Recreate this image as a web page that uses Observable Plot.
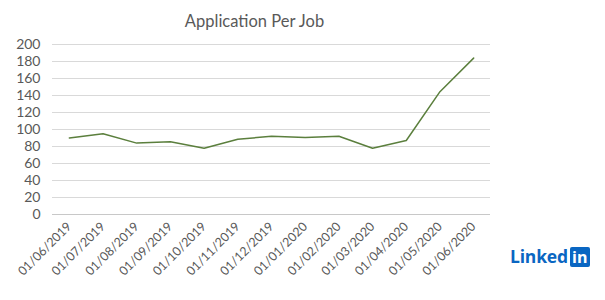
<!DOCTYPE html>
<html>
<head>
<meta charset="utf-8">
<script src="https://cdn.jsdelivr.net/npm/d3@7"></script>
<script src="https://cdn.jsdelivr.net/npm/@observablehq/plot@0.6"></script>
<style>
  html, body { margin: 0; padding: 0; background: #fff; }
  #wrap { position: relative; width: 605px; height: 300px; overflow: hidden; font-family: Lato, "Open Sans", sans-serif; }
  #title { position: absolute; left: 0; width: 509px; top: 11px; text-align: center; font-size: 16.5px; color: #595959; }
  #logo { position: absolute; left: 510px; top: 246px; height: 21px; display: flex; align-items: center; }
  #logo .word { font-family: "Open Sans", Lato, sans-serif; font-weight: 700; font-size: 17.5px; color: #0a66c2; letter-spacing: -0.2px; line-height: 21px; }
  #logo .box { margin-left: 2px; width: 20px; height: 20px; background: #0a66c2; color: #fff; border-radius: 2px; font-family: "Open Sans", sans-serif; font-weight: 700; font-size: 16px; line-height: 20px; text-align: center; }
  svg { position: absolute; left: 0; top: 0; }
</style>
</head>
<body>
<div id="wrap">
  <div id="title">Application Per Job</div>
  <div id="logo"><span class="word">Linked</span><span class="box">in</span></div>
</div>
<script>
const months = ["01/06/2019","01/07/2019","01/08/2019","01/09/2019","01/10/2019","01/11/2019","01/12/2019","01/01/2020","01/02/2020","01/03/2020","01/04/2020","01/05/2020","01/06/2020"];
const applicationsPerJob = [90, 95, 84, 85.5, 78, 88.5, 92, 90.5, 92, 78, 87, 144.5, 184];
const yTicks = [0, 20, 40, 60, 80, 100, 120, 140, 160, 180, 200];

const data = months.map((m, i) => ({month: m, value: applicationsPerJob[i]}));

const chart = Plot.plot({
  width: 605,
  height: 300,
  marginTop: 44,
  marginBottom: 86,
  marginLeft: 52,
  marginRight: 115,
  style: {fontFamily: "Lato, 'Open Sans', sans-serif", background: "transparent"},
  x: {type: "point", domain: months, padding: 0.5, round: false, label: null},
  y: {domain: [0, 200], label: null},
  marks: [
    Plot.gridY(yTicks, {stroke: "#d9d9d9", strokeOpacity: 1, strokeWidth: 1}),
    Plot.ruleY([0], {stroke: "#c8c8c8"}),
    Plot.axisY(yTicks, {tickSize: 0, tickPadding: 12, fontSize: 14, fill: "#595959", label: null}),
    Plot.axisX({tickSize: 0, tickRotate: -45, tickPadding: 10, fontSize: 12.5, fill: "#595959", label: null}),
    Plot.line(data, {x: "month", y: "value", stroke: "#5b7f3d", strokeWidth: 1.5})
  ]
});
document.getElementById("wrap").appendChild(chart);
</script>
</body>
</html>
